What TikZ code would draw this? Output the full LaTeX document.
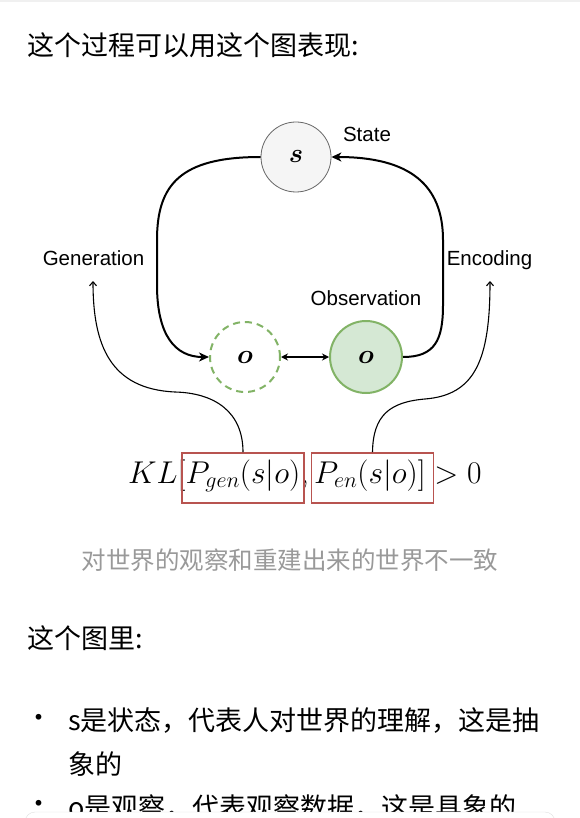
\RequirePackage{fix-cm}
\documentclass[tikz,border=0pt]{standalone}
\usepackage{amsmath}
\usepackage{fontspec}
\newfontfamily\cjk{Noto Sans CJK SC}
\newfontfamily\lab{Liberation Sans}
\usetikzlibrary{positioning, arrows.meta}

\definecolor{obsgreen}{HTML}{82B366}
\definecolor{obsfill}{HTML}{D5E8D4}
\definecolor{boxred}{HTML}{B85450}
\definecolor{statefill}{HTML}{F5F5F5}
\definecolor{capgray}{HTML}{999999}

\begin{document}
\begin{tikzpicture}[x=1pt,y=-1pt,
	txt/.style={inner sep=0pt,anchor=west,font=\cjk\fontsize{27}{27}\selectfont},
	lbl/.style={inner sep=0pt,anchor=base,font=\lab\fontsize{20.5}{20.5}\selectfont},
	var/.style={circle,minimum size=70pt,inner sep=0pt,font=\fontsize{27}{27}\selectfont},
	flow/.style={line width=2pt,-{Stealth[length=10pt,width=9pt,inset=3pt]}},
	hint/.style={line width=1.1pt,-{Straight Barb[length=4pt,width=7pt]}},
	kbox/.style={draw=boxred,line width=1.6pt,minimum width=122pt,minimum height=50pt}]
	\useasboundingbox (0,0) rectangle (580,818);
	\clip (0,0) rectangle (580,818);
	\fill[gray!12] (0,0) rectangle (580,2);

	\node[txt] (heading) at (27,45) {这个过程可以用这个图表现:};

	\node (state) at (296,157) [var,draw=black!60,line width=0.8pt,fill=statefill] {$\boldsymbol{s}$};
	\node (obsgen) at (245,357) [var,draw=obsgreen,line width=2pt,dashed,dash pattern=on 7pt off 5pt] {$\boldsymbol{o}$};
	\node (obs) at (366,357) [var,minimum size=72pt,draw=obsgreen,line width=2pt,fill=obsfill] {$\boldsymbol{o}$};

	%labels
	\node[lbl] (statelabel) at (367,142) {State};
	\node[lbl,anchor=south] (obslabel) [above=14pt of obs] {Observation};
	\node[lbl] (genlabel) at (93.5,265) {Generation};
	\node[lbl] (enclabel) at (489.5,265) {Encoding};

	\path[flow] (state.west) edge[to path={.. controls (180,157) and (157,185) .. (157,240) -- (157,285) .. controls (157,335) and (175,357) .. (\tikztotarget)}] (obsgen.west);
	\path[flow] (obs.east) edge[to path={.. controls (435,357) and (443,340) .. (443,305) -- (443,240) .. controls (443,185) and (410,157) .. (\tikztotarget)}] (state.east);
	\path[line width=1.6pt,{Stealth[length=7pt,width=7pt]}-{Stealth[length=7pt,width=7pt]}] (obsgen) edge (obs);

	%formula
	\node (kl) at (128,483) [anchor=base west,inner sep=0pt,font=\fontsize{31.5}{31.5}\selectfont] {$KL[P_{gen}(s|o),P_{en}(s|o)] > 0$};
	\node[kbox] (genbox) at (243,478) {};
	\node[kbox] (enbox) at (372.5,478) {};

	\coordinate (gentip) at (93,281);
	\coordinate (enctip) at (490,281);
	\draw[hint] (genbox.north) .. controls (243,412) and (215,393) .. (175,392) .. controls (110,389) and (93,345) .. (gentip);
	\draw[hint] (enbox.north) .. controls (373,415) and (390,402) .. (425,399) .. controls (475,395) and (490,360) .. (enctip);

	\node[txt,anchor=center,text=capgray,font=\cjk\fontsize{24.5}{24.5}\selectfont] (caption) at (290,560) {对世界的观察和重建出来的世界不一致};

	\node[txt] (listhead) at (27,638) {这个图里:};
	\node[txt,anchor=center] (dot1) at (39,721) {•};
	\node[txt] (item1) at (68,721) {s是状态，代表人对世界的理解，这是抽};
	\node[txt] (item1b) at (68,764) {象的};
	\node[txt,anchor=center] (dot2) at (39,807) {•};
	\node[txt] (item2) at (68,808) {o是观察，代表观察数据，这是具象的};
	\draw[gray!25,fill=white,rounded corners=10pt] (25,812) rectangle (555,860);
\end{tikzpicture}
\end{document}
